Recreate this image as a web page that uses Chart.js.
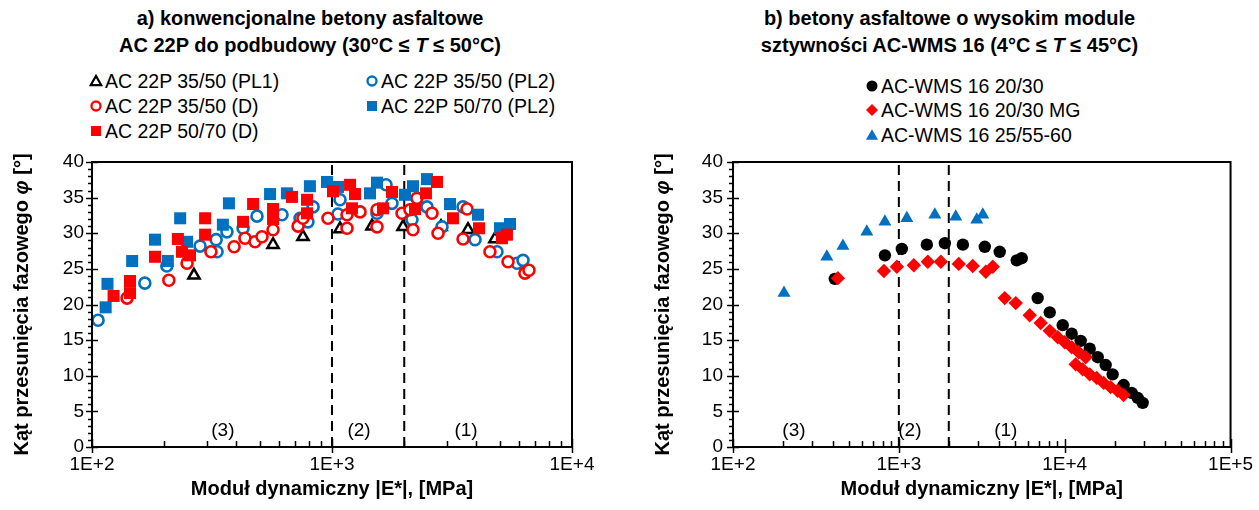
<!DOCTYPE html>
<html><head><meta charset="utf-8">
<script src="https://cdn.jsdelivr.net/npm/chart.js@4/dist/chart.umd.min.js"></script>
<style>
html,body{margin:0;padding:0;background:#fff;}
body{width:1259px;height:510px;position:relative;overflow:hidden;font-family:"Liberation Sans",Arial,sans-serif;color:#000;}
canvas{position:absolute;top:0;}
.title{position:absolute;text-align:center;font-weight:bold;font-size:20px;line-height:27px;white-space:nowrap;}
.li{position:absolute;font-size:19.5px;line-height:22px;white-space:nowrap;display:flex;align-items:center;}
.li svg{margin-right:1px;}
</style></head><body>
<div class="title" style="left:0;width:620px;top:5px">a) konwencjonalne betony asfaltowe<br>AC 22P do podbudowy (30°C ≤ <i>T</i> ≤ 50°C)</div>
<div class="title" style="left:640px;width:619px;top:5px">b) betony asfaltowe o wysokim module<br>sztywności AC-WMS 16 (4°C ≤ <i>T</i> ≤ 45°C)</div>
<div id="legA"></div><div id="legB"></div>
<canvas id="cA" width="630" height="510" style="left:0;width:630px;height:510px"></canvas>
<canvas id="cB" width="629" height="510" style="left:630px;width:629px;height:510px"></canvas>
<script>
// ---------- data ----------
const xMin = 100;
const xMaxA = 10000, xMaxB = 100000;
const yMin = 0, yMax = 40, yStep = 5;
const xTickValuesA = [100, 1000, 10000];
const xTickLabelsA = ['1E+2', '1E+3', '1E+4'];
const xTickValuesB = [100, 1000, 10000, 100000];
const xTickLabelsB = ['1E+2', '1E+3', '1E+4', '1E+5'];
const zoneBounds = [1000, 2000];
const zoneLabels = ['(3)', '(2)', '(1)'];
const zoneLabelXA = [351, 1296, 3617];
const zoneLabelXB = [233, 1165, 4414];
const zoneLabelY = 2.3;

// chart a)
const seriesNamesA = ['AC 22P 35/50 (PL1)', 'AC 22P 35/50 (PL2)', 'AC 22P 35/50 (D)', 'AC 22P 50/70 (PL2)', 'AC 22P 50/70 (D)'];
const pl1X = [266, 568, 757, 1080, 1468, 1977, 2846, 3687, 4775];
const pl1Y = [24.1, 28.4, 29.5, 30.6, 31.0, 30.9, 30.9, 30.5, 29.2];
const c3550pl2X = [106,166,205,282,329,332,365,426,487,619,736,834,794,1080,1059,1679,1778,1540,2154,2487,2873,3515,3944,4870,5902,6250];
const c3550pl2Y = [17.8,23.0,25.4,28.2,29.1,27.4,30.2,30.7,32.4,32.6,32.1,33.7,31.6,34.7,32.7,36.8,34.2,32.8,31.9,33.7,30.9,33.7,29.1,27.4,25.8,26.2];
const c3550dX = [140,209,249,313,391,434,478,511,568,722,757,962,1155,1155,1309,1540,1540,1958,2113,2175,2259,2610,2766,3515,3652,4550,5412,6367,6619];
const c3550dY = [20.9,23.4,25.8,27.4,28.1,29.3,28.8,29.5,30.5,31.0,32.1,32.1,32.6,30.7,33.0,33.3,30.9,32.8,33.3,30.5,34.9,32.8,30.0,29.2,33.4,27.4,26.0,24.4,24.8];
const s5070pl2X = [114,116,147,183,207,233,249,351,372,552,649,809,953,1059,1440,1540,2014,2175,2487,3103,4057,5012,5516];
const s5070pl2Y = [19.6,22.9,26.1,29.1,26.1,32.1,28.8,31.2,34.2,35.5,35.6,36.6,37.2,36.5,35.6,37.1,35.4,36.6,37.6,34.1,32.6,30.7,31.3];
const s5070dX = [123,144,144,183,228,237,256,296,296,426,469,568,568,681,787,787,1010,1189,1247,1211,1778,1632,2218,2463,2738,3192,4099,5105,5357];
const s5070dY = [21.2,23.3,21.6,26.7,29.2,27.4,26.9,32.1,29.8,31.6,34.1,33.4,32.0,35.1,34.7,32.8,35.9,36.8,35.5,33.5,35.8,33.5,33.4,35.6,37.2,32.1,30.7,29.3,29.8];

// chart b)
const seriesNamesB = ['AC-WMS 16 20/30', 'AC-WMS 16 20/30 MG', 'AC-WMS 16 25/55-60'];
const wmsX = [411,824,1042,1475,1894,2432,3298,4058,5137,5508,6875,8124,9728,11020,12480,14150,15810,17670,19460,22660,25330,27540,29530];
const wmsY = [23.6,26.9,27.8,28.4,28.6,28.4,28.1,27.4,26.2,26.5,20.9,18.9,17.1,15.9,14.9,13.8,12.6,11.5,10.2,8.7,7.6,6.9,6.2];
const mgX = [429,813,973,1231,1495,1792,2297,2790,3343,3683,4350,5070,6152,7167,8128,9081,10000,11020,12140,13380,11640,12830,14150,15590,17180,18930,20850,22650];
const mgY = [23.7,24.7,25.3,25.5,26.0,26.0,25.7,25.4,24.6,25.3,20.9,20.2,18.5,17.4,16.3,15.4,14.7,14.0,13.3,12.6,11.6,10.9,10.2,9.7,9.0,8.4,7.9,7.3];
const pmbX = [203,368,460,641,824,1117,1648,2204,2950,3207];
const pmbY = [21.6,26.7,28.2,30.2,31.6,32.1,32.6,32.3,31.9,32.6];

// ---------- styles ----------
const BLUE = '#0070C0', RED = '#FF0000', BLACK = '#000000';
const FONT = '"Liberation Sans", Arial, sans-serif';
const pts = (xs, ys) => xs.map((x, i) => ({x, y: ys[i]}));

const stylesA = [
  {pointStyle:'triangle', radius:6.5, borderColor:BLACK, backgroundColor:'#fff', borderWidth:2.5},
  {pointStyle:'circle', radius:5.5, borderColor:BLUE, backgroundColor:'#fff', borderWidth:2.6},
  {pointStyle:'circle', radius:5.5, borderColor:RED, backgroundColor:'#fff', borderWidth:2.6},
  {pointStyle:'rect', radius:8.5, borderColor:BLUE, backgroundColor:BLUE, borderWidth:0},
  {pointStyle:'rect', radius:8.5, borderColor:RED, backgroundColor:RED, borderWidth:0},
];
const stylesB = [
  {pointStyle:'circle', radius:6.2, borderColor:BLACK, backgroundColor:BLACK, borderWidth:0},
  {pointStyle:'rectRot', radius:7.2, borderColor:RED, backgroundColor:RED, borderWidth:0},
  {pointStyle:'triangle', radius:7.5, borderColor:BLUE, backgroundColor:BLUE, borderWidth:0},
];

function scatterSets(names, xsList, ysList, styles) {
  const n = names.length;
  return names.map((nm, i) => ({
    type: 'scatter', label: nm, data: pts(xsList[i], ysList[i]),
    pointStyle: styles[i].pointStyle, pointRadius: styles[i].radius, pointHoverRadius: styles[i].radius,
    pointBorderColor: styles[i].borderColor, pointBackgroundColor: styles[i].backgroundColor,
    pointBorderWidth: styles[i].borderWidth, showLine: false, order: n - i + 1
  }));
}
function zoneSets() {
  return zoneBounds.map(b => ({
    type: 'line', label: '', data: [{x: b, y: yMin}, {x: b, y: yMax}],
    borderColor: BLACK, borderWidth: 2, borderDash: [10, 6], pointRadius: 0, fill: false, order: 100
  }));
}

const framePlugin = {
  id: 'frame',
  afterDatasetsDraw(chart, args, o) {
    const {ctx, chartArea: a, scales: {x, y}} = chart;
    ctx.save();
    ctx.strokeStyle = BLACK;
    ctx.lineWidth = 1.5;
    for (let v = yMin; v <= yMax; v += 1) {
      const py = Math.round(y.getPixelForValue(v)) + 0.5;
      const major = v % yStep === 0;
      ctx.beginPath();
      ctx.moveTo(a.left - (major ? 6 : 4), py);
      ctx.lineTo(a.left + (major ? 6 : 1), py);
      ctx.stroke();
    }
    const xMax = x.max;
    for (let d = xMin; d <= xMax; d *= 10) {
      for (let m = 1; m <= 9; m++) {
        const v = d * m;
        if (v > xMax) break;
        const px = Math.round(x.getPixelForValue(v)) + 0.5;
        ctx.beginPath();
        if (m === 1) { ctx.moveTo(px, a.bottom + 6); ctx.lineTo(px, a.bottom - 8); }
        else { ctx.moveTo(px, a.bottom); ctx.lineTo(px, a.bottom - 6); }
        ctx.stroke();
      }
    }
    ctx.lineWidth = 2;
    ctx.strokeRect(a.left, a.top, a.right - a.left, a.bottom - a.top);
    // zone labels
    ctx.fillStyle = BLACK;
    ctx.font = '19px ' + FONT;
    ctx.textAlign = 'center';
    ctx.textBaseline = 'middle';
    o.zoneX.forEach((zx, i) => ctx.fillText(zoneLabels[i], x.getPixelForValue(zx), y.getPixelForValue(zoneLabelY)));
    // y title
    const parts = [['Kąt przesunięcia fazowego ', 'bold 20px ' + FONT], ['φ', 'italic bold 20px ' + FONT], [' [°]', 'bold 20px ' + FONT]];
    let total = 0;
    parts.forEach(p => { ctx.font = p[1]; total += ctx.measureText(p[0]).width; });
    ctx.translate(o.titleX, (a.top + a.bottom) / 2);
    ctx.rotate(-Math.PI / 2);
    ctx.textAlign = 'left';
    let cx = -total / 2;
    parts.forEach(p => { ctx.font = p[1]; ctx.fillText(p[0], cx, 0); cx += ctx.measureText(p[0]).width; });
    ctx.restore();
  }
};

function makeChart(id, datasets, xMax, tickVals, tickLabels, geo) {
  return new Chart(document.getElementById(id), {
    data: {datasets},
    options: {
      responsive: false, animation: false, events: [],
      layout: {padding: {top: geo.top, right: geo.right, left: 0, bottom: 0}},
      plugins: {legend: {display: false}, tooltip: {enabled: false}, title: {display: false},
        frame: {zoneX: geo.zoneX, titleX: geo.titleX}},
      scales: {
        x: {
          type: 'logarithmic', min: xMin, max: xMax, position: 'bottom',
          grid: {display: false, drawTicks: false}, border: {display: false},
          afterBuildTicks: s => { s.ticks = tickVals.map(v => ({value: v})); },
          afterFit: s => { s.height = geo.xh; },
          ticks: {autoSkip: false, maxRotation: 0, padding: 6, color: BLACK, font: {family: FONT, size: 19},
            callback: (v, i) => tickLabels[i]},
          title: {display: true, text: 'Moduł dynamiczny |E*|, [MPa]', color: BLACK,
            font: {family: FONT, size: 20, weight: 'bold'}, padding: {top: 0, bottom: 9}}
        },
        y: {
          type: 'linear', min: yMin, max: yMax, position: 'left',
          grid: {display: false, drawTicks: false}, border: {display: false},
          afterFit: s => { s.width = geo.yw; },
          ticks: {stepSize: yStep, padding: geo.ypad, color: BLACK, font: {family: FONT, size: 19}},
          title: {display: false}
        }
      }
    },
    plugins: [framePlugin]
  });
}

makeChart('cA',
  zoneSets().concat(scatterSets(seriesNamesA, [pl1X, c3550pl2X, c3550dX, s5070pl2X, s5070dX], [pl1Y, c3550pl2Y, c3550dY, s5070pl2Y, s5070dY], stylesA)),
  xMaxA, xTickValuesA, xTickLabelsA,
  {top: 162, right: 58, xh: 63, yw: 92, ypad: 8, zoneX: zoneLabelXA, titleX: 22});
makeChart('cB',
  zoneSets().concat(scatterSets(seriesNamesB, [wmsX, mgX, pmbX], [wmsY, mgY, pmbY], stylesB)),
  xMaxB, xTickValuesB, xTickLabelsB,
  {top: 162, right: 28, xh: 63, yw: 103, ypad: 10, zoneX: zoneLabelXB, titleX: 33});

// ---------- HTML legends ----------
function marker(st, s) {
  const c = 8, w = 16;
  let inner = '';
  if (st.pointStyle === 'triangle') {
    const r = s, h = r * 1.5, half = r * 0.866;
    const top = c - h / 2 - 0.5;
    inner = `<polygon points="${c},${top} ${c + half},${top + h} ${c - half},${top + h}" fill="${st.backgroundColor}" stroke="${st.borderColor}" stroke-width="${st.borderWidth}" stroke-linejoin="miter"/>`;
  } else if (st.pointStyle === 'circle') {
    inner = `<circle cx="${c}" cy="${c}" r="${s}" fill="${st.backgroundColor}" stroke="${st.borderColor}" stroke-width="${st.borderWidth}"/>`;
  } else if (st.pointStyle === 'rect') {
    inner = `<rect x="${c - s}" y="${c - s}" width="${2 * s}" height="${2 * s}" fill="${st.backgroundColor}"/>`;
  } else {
    inner = `<polygon points="${c},${c - s} ${c + s},${c} ${c},${c + s} ${c - s},${c}" fill="${st.backgroundColor}"/>`;
  }
  return `<svg width="${w}" height="${w}" viewBox="0 0 ${w} ${w}">${inner}</svg>`;
}
const legPosA = [[88, 70], [364, 70], [88, 95], [364, 95], [88, 120]];
const legSizeA = [6, 4.5, 4.5, 5, 5];
let h = '';
seriesNamesA.forEach((nm, i) => {
  const st = Object.assign({}, stylesA[i], {borderWidth: stylesA[i].borderWidth * 0.9});
  h += `<div class="li" style="left:${legPosA[i][0]}px;top:${legPosA[i][1]}px">${marker(st, legSizeA[i])}${nm}</div>`;
});
document.getElementById('legA').innerHTML = h;
const legPosB = [[864, 75], [864, 99], [864, 124]];
const legSizeB = [5.5, 6, 7];
h = '';
seriesNamesB.forEach((nm, i) => {
  h += `<div class="li" style="left:${legPosB[i][0]}px;top:${legPosB[i][1]}px">${marker(stylesB[i], legSizeB[i])}${nm}</div>`;
});
document.getElementById('legB').innerHTML = h;
</script>
</body></html>
